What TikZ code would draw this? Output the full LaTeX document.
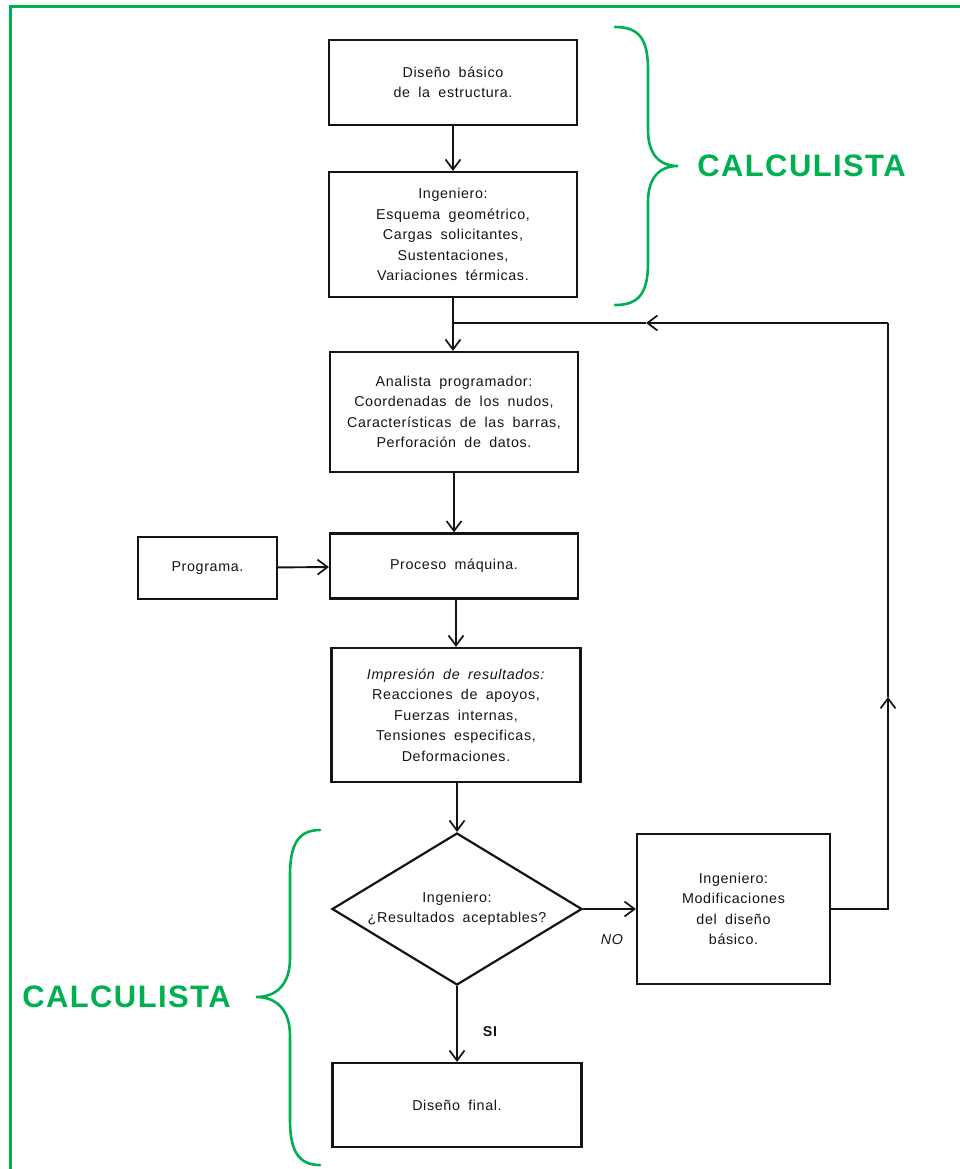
\documentclass[tikz,border=0pt]{standalone}
\usepackage{fontspec}
\setmainfont{Liberation Sans}[WordSpace={1.8,1,1},LetterSpace=4.5]
\usetikzlibrary{arrows.meta,shapes.geometric}
\definecolor{brgreen}{RGB}{0,176,80}
\definecolor{ink}{RGB}{20,20,20}
\begin{document}
\begin{tikzpicture}[x=1pt,y=-1pt,
  box/.style={draw=ink,line width=2.2pt,inner sep=0pt,align=center,text=ink,
    font=\fontsize{14.3}{20.5}\selectfont},
  conn/.style={draw=ink,line width=1.9pt},
  arr/.style={conn,-{Straight Barb[length=10pt,width=15pt,line width=1.7pt]}},
  brace/.style={draw=brgreen,line width=2.6pt,line cap=round},
  bigtxt/.style={text=brgreen,font=\fontsize{31}{36}\bfseries\selectfont,inner sep=0pt},
  lab/.style={text=ink,inner sep=0pt}]
\useasboundingbox (0,0) rectangle (959,1169);
% green frame
\draw[draw=brgreen,line width=3pt] (10,1172) -- (10,7) -- (962,7);
% boxes
\node[box,minimum width=248pt,minimum height=85pt] (b1) at (453,82.5) {Diseño básico\\de la estructura.};
\node[box,minimum width=248pt,minimum height=125pt] (b2) at (453,234.5) {Ingeniero:\\Esquema geométrico,\\Cargas solicitantes,\\Sustentaciones,\\Variaciones térmicas.};
\node[box,minimum width=248pt,minimum height=120pt] (b3) at (454,412) {Analista programador:\\Coordenadas de los nudos,\\Características de las barras,\\Perforación de datos.};
\node[box,minimum width=248pt,minimum height=65pt] (b4) at (454,566) {Proceso máquina.};
\node[box,minimum width=139pt,minimum height=62pt] (prog) at (207.5,568) {Programa.};
\node[box,minimum width=249pt,minimum height=134pt] (b5) at (456,715) {\textit{Impresión de resultados:}\\Reacciones de apoyos,\\Fuerzas internas,\\Tensiones especificas,\\Deformaciones.};
\node[box,diamond,aspect=1.64,minimum width=250pt,minimum height=152pt] (dia) at (457,909) {Ingeniero:\\¿Resultados aceptables?};
\node[box,minimum width=193pt,minimum height=150pt] (mod) at (733.5,909) {Ingeniero:\\Modificaciones\\del diseño\\básico.};
\node[box,minimum width=249pt,minimum height=84pt] (fin) at (457,1105) {Diseño final.};
% connectors
\draw[arr] (b1) -- (b2);
\coordinate (fb) at (888,323);
\coordinate (jn) at (b2.south |- fb);
\draw[arr] (b2.south) -- (b2.south |- b3.north);
\draw[arr] (b3.south) -- (b3.south |- b4.north);
\draw[arr] (prog) -- (b4);
\draw[arr] (b5.north |- b4.south) -- (b5.north);
\draw[arr] (dia.north |- b5.south) -- (dia.north);
\draw[arr] (dia.east) -- (mod.west);
\draw[arr] (dia.south) -- (fin.north);
\coordinate (upm) at (888,697);
\coordinate (lfm) at (646,323);
\draw[arr] (mod.east) -| (upm);
\draw[conn] (upm) -- (fb);
\draw[arr] (fb) -- (lfm);
\draw[conn] (lfm) -- (jn);
% labels
\node[lab,font=\fontsize{14.3}{16}\itshape\selectfont] (no) at (612,940) {NO};
\node[lab,font=\fontsize{14.3}{16}\bfseries\selectfont] (si) at (490,1032) {SI};
% braces
\draw[brace] (615,27) .. controls (640,27) and (648,40) .. (648,70) -- (648,130)
  .. controls (648,155) and (660,166) .. (678,166)
  .. controls (660,166) and (648,177) .. (648,202) -- (648,262)
  .. controls (648,292) and (640,305) .. (615,305);
\node[bigtxt] (c1) at (801.5,166) {CALCULISTA};
\draw[brace] (320,830) .. controls (298,830) and (290,845) .. (290,875) -- (290,958)
  .. controls (290,985) and (276,997) .. (256,997)
  .. controls (276,997) and (290,1009) .. (290,1036) -- (290,1120)
  .. controls (290,1150) and (298,1165) .. (320,1165);
\node[bigtxt] (c2) at (126.5,997) {CALCULISTA};
\end{tikzpicture}
\end{document}
